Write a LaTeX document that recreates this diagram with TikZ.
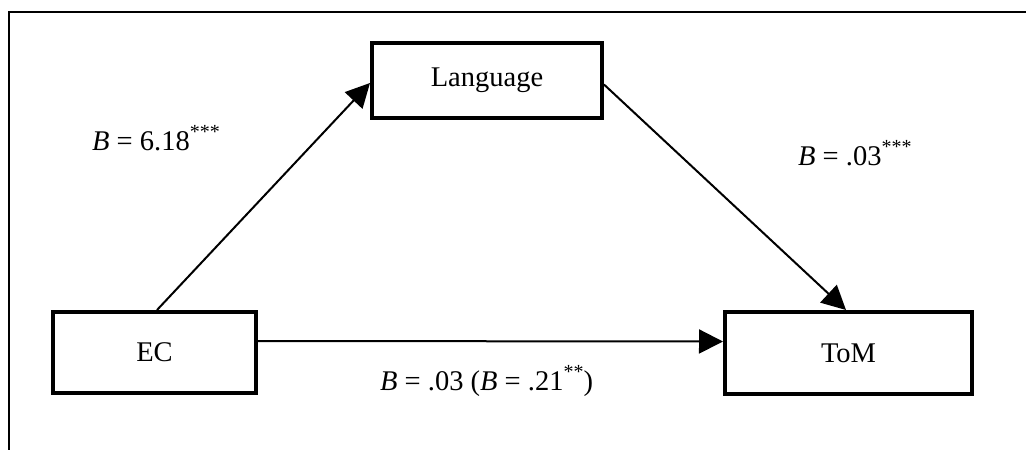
\documentclass[tikz,border=0pt]{standalone}
\usepackage{fontspec}
\setmainfont{Liberation Serif}
\usetikzlibrary{arrows.meta}
\newcommand{\mysup}[1]{\raisebox{0.42em}{\fontsize{20}{22}\selectfont #1}}
\begin{document}
\begin{tikzpicture}[x=1pt,y=-1pt,
  varbox/.style={draw=black,line width=4pt,minimum width=#1,inner sep=0pt,font=\fontsize{28.5}{32}\selectfont},
  conn/.style={line width=2pt,-{Triangle[length=24pt,width=24pt]}},
  lab/.style={anchor=base west,inner sep=0pt,font=\fontsize{28.5}{32}\selectfont},
  frameline/.style={line width=2.5pt}]
\useasboundingbox (0,0) rectangle (1026,450);
\coordinate (fa) at (9,450);
\coordinate (fb) at (9,12);
\coordinate (fc) at (1026,12);
\draw[frameline] (fa) -- (fb) -- (fc);
\node[varbox=230pt,minimum height=75pt] (Language) at (487,80.5) {Language};
\node[varbox=203pt,minimum height=81pt] (EC) at (154.5,352.5) {EC};
\node[varbox=247pt,minimum height=82pt] (ToM) at (848.5,353) {ToM};
\draw[conn] ([xshift=2.5pt]EC.north) -- ([yshift=-2.5pt]Language.west);
\draw[conn] ([yshift=-4pt]Language.east) -- ([xshift=-2.5pt]ToM.north);
\draw[conn] ([yshift=11.5pt]EC.east) -- ([yshift=11.5pt]ToM.west);
\node[lab] (l1) at (92,150) {\textit{B} = 6.18\mysup{***}};
\node[lab] (l2) at (798,165) {\textit{B} = .03\mysup{***}};
\node[lab] (l3) at (380,390) {\textit{B} = .03 (\textit{B} = .21\mysup{**})};
\end{tikzpicture}
\end{document}
